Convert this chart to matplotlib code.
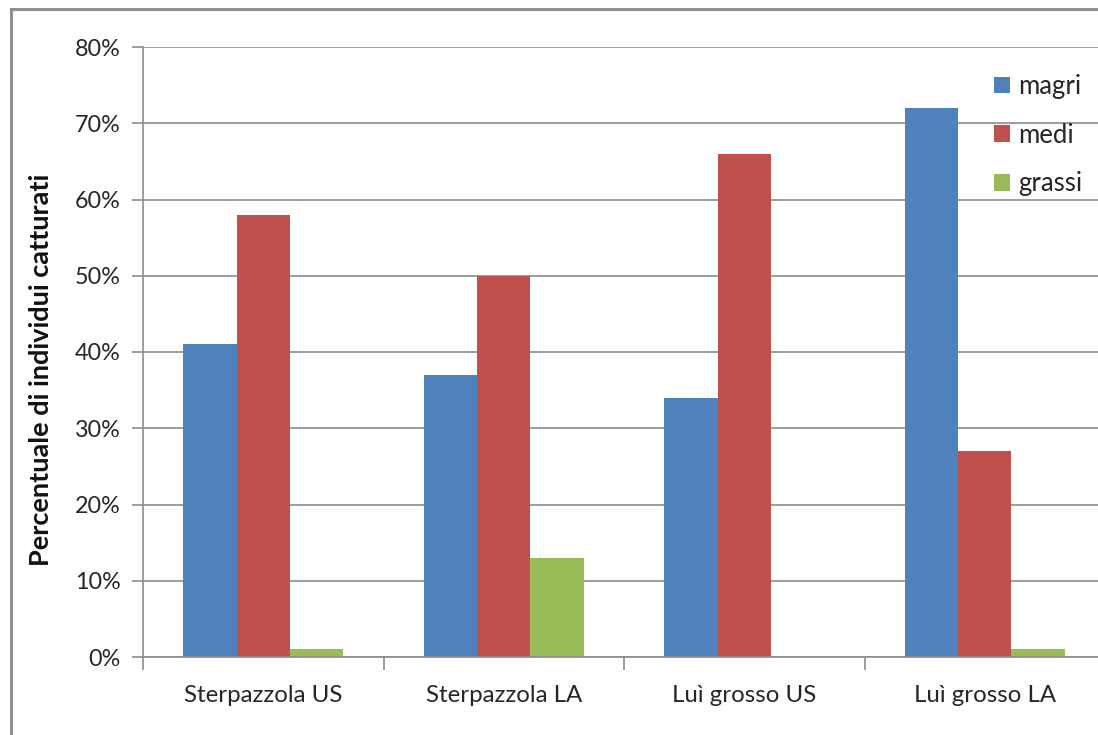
import matplotlib
matplotlib.use("Agg")
import matplotlib.pyplot as plt
from matplotlib.patches import Rectangle
from matplotlib.ticker import FuncFormatter, FixedLocator
import numpy as np

categories = ["Sterpazzola US", "Sterpazzola LA", "Luì grosso US", "Luì grosso LA"]
series_names = ["magri", "medi", "grassi"]
magri = [41, 37, 34, 72]
medi = [58, 50, 66, 27]
grassi = [1, 13, 0, 1]
y_ticks = [0, 10, 20, 30, 40, 50, 60, 70, 80]

colors = ["#4f81bd", "#c0504d", "#9bbb59"]
text_color = "#262626"
axis_color = "#8c8c8c"

plt.rcParams["font.family"] = ["Lato", "DejaVu Sans"]

W, H = 1098, 735
fig = plt.figure(figsize=(W / 100, H / 100), dpi=100)

# outer chart border (runs off the right and bottom of the canvas)
fig.patches.append(Rectangle((11 / W, -0.1), 1.2, 1 - 9 / H + 0.1,
                             transform=fig.transFigure, fill=False,
                             edgecolor="#8f8f8f", linewidth=2.2))

x0, x1 = 143, 1105
y0, y1 = 657, 47
ax = fig.add_axes([x0 / W, (H - y0) / H, (x1 - x0) / W, (y0 - y1) / H])

x = np.arange(len(categories))
bw = 1 / 4.5
for i, (name, vals) in enumerate(zip(series_names, [magri, medi, grassi])):
    ax.bar(x + (i - 1) * bw, vals, width=bw, color=colors[i], label=name,
           edgecolor="none", zorder=3)

ax.set_xlim(-0.5, len(categories) - 0.5)
ax.set_ylim(0, 80)
ax.set_yticks(y_ticks)
ax.yaxis.set_major_formatter(FuncFormatter(lambda v, p: f"{v:.0f}%"))
ax.grid(axis="y", color=axis_color, linewidth=1.2, zorder=0)

ax.set_xticks(x)
ax.set_xticklabels(categories)
ax.xaxis.set_minor_locator(FixedLocator(np.arange(-0.5, len(categories), 1.0)))
ax.tick_params(axis="x", which="major", length=0, pad=20, labelsize=17.3,
               labelcolor=text_color)
ax.tick_params(axis="x", which="minor", length=9, width=1.2, color=axis_color,
               direction="out")
ax.tick_params(axis="y", length=8, width=1.2, color=axis_color, pad=8,
               labelsize=16.8, labelcolor=text_color)

for side in ["top", "right"]:
    ax.spines[side].set_visible(False)
for side in ["left", "bottom"]:
    ax.spines[side].set_color(axis_color)
    ax.spines[side].set_linewidth(1.2)
    ax.spines[side].set_zorder(4)

fig.text(41 / W, 1 - 370 / H, "Percentuale di individui catturati",
         rotation=90, ha="center", va="center", fontsize=19.5,
         fontweight="bold", color="#111111")

leg = ax.legend(loc="upper left", bbox_to_anchor=(994 / W, 1 - 74 / H),
                bbox_transform=fig.transFigure, frameon=False, fontsize=18.5,
                handlelength=0.63, handleheight=0.63, handletextpad=0.3,
                labelspacing=0.92, borderpad=0, borderaxespad=0)
for t in leg.get_texts():
    t.set_color(text_color)

fig.savefig("out.png", dpi=100)
